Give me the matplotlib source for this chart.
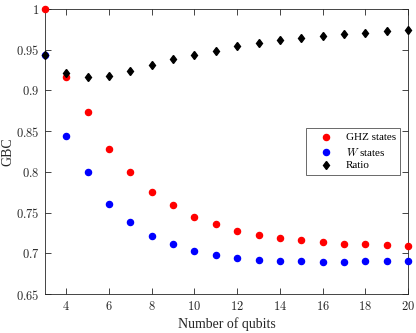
import matplotlib
matplotlib.use('Agg')
import matplotlib.pyplot as plt

# values
qubits = [3, 4, 5, 6, 7, 8, 9, 10, 11, 12, 13, 14, 15, 16, 17, 18, 19, 20]
ghz = [1.0, 0.917, 0.874, 0.828, 0.800, 0.775, 0.759, 0.745, 0.736, 0.728,
       0.723, 0.719, 0.716, 0.714, 0.712, 0.711, 0.710, 0.709]
w_states = [0.944, 0.844, 0.800, 0.760, 0.739, 0.721, 0.711, 0.703, 0.698, 0.694,
            0.692, 0.691, 0.690, 0.6895, 0.6895, 0.690, 0.690, 0.690]
ratio = [0.944, 0.921, 0.916, 0.918, 0.924, 0.931, 0.938, 0.944, 0.949, 0.954,
         0.958, 0.9615, 0.964, 0.967, 0.969, 0.971, 0.9725, 0.974]

x_ticks = [4, 6, 8, 10, 12, 14, 16, 18, 20]
y_ticks = [0.65, 0.7, 0.75, 0.8, 0.85, 0.9, 0.95, 1.0]
y_tick_labels = ['0.65', '0.7', '0.75', '0.8', '0.85', '0.9', '0.95', '1']

plt.rcParams['font.family'] = 'serif'
plt.rcParams['font.serif'] = ['Liberation Serif', 'DejaVu Serif']
plt.rcParams['mathtext.fontset'] = 'cm'

axis_col = '#262626'

fig = plt.figure(figsize=(4.16, 3.33), dpi=100)
ax = fig.add_axes([0.108, 0.117, 0.873, 0.856])

# markers at the edges are not clipped in the reference
ax.plot(qubits, ghz, 'o', color='#ff0000', markersize=4.4, label='GHZ states',
        zorder=3, clip_on=False)
ax.plot(qubits, w_states, 'o', color='#0000ff', markersize=4.4, label='$W$ states',
        zorder=3, clip_on=False)
ax.plot(qubits, ratio, 'd', color='black', markersize=4.3, label='Ratio',
        zorder=3, clip_on=False)

ax.set_xlim(3, 20)
ax.set_ylim(0.65, 1.0)
ax.set_xticks(x_ticks)
ax.set_xticklabels(['$%d$' % t for t in x_ticks])
ax.set_yticks(y_ticks)
ax.set_yticklabels(['$%s$' % t for t in y_tick_labels])

ax.tick_params(direction='in', top=True, right=True, length=4, width=0.6,
               colors=axis_col, labelsize=9, labelcolor=axis_col, pad=4)
for s in ax.spines.values():
    s.set_color(axis_col)
    s.set_linewidth(0.6)

ax.set_xlabel('Number of qubits', fontsize=10, color=axis_col, labelpad=3)
ax.set_ylabel('GBC', fontsize=10, color=axis_col)
ax.yaxis.set_label_coords(-0.085, 0.5)

leg = ax.legend(loc='center right', fontsize=8, frameon=True, fancybox=False,
                edgecolor=axis_col, borderaxespad=0.7, handlelength=2.8,
                handletextpad=0.35, labelspacing=0.28, borderpad=0.4)
leg.get_frame().set_linewidth(0.6)

fig.savefig('out.png', dpi=100)
